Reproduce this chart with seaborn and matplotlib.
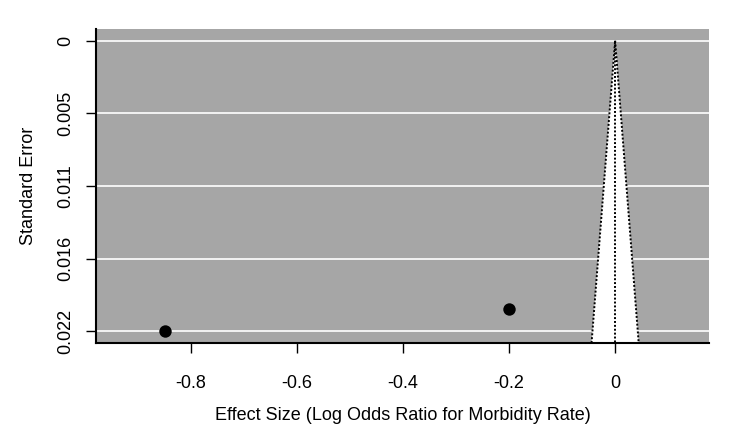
import matplotlib
matplotlib.use('Agg')
import matplotlib.pyplot as plt
import seaborn as sns
import numpy as np
import pandas as pd

# studies (log odds ratio, standard error)
effect = [-0.848, -0.2]
std_err = [0.0218, 0.0201]
estimate = 0.0
y_ticks = [0, 0.00545, 0.0109, 0.01635, 0.0218]
y_labels = ['0', '0.005', '0.011', '0.016', '0.022']
x_ticks = [-0.8, -0.6, -0.4, -0.2, 0]
x_labels = ['-0.8', '-0.6', '-0.4', '-0.2', '0']

df = pd.DataFrame({'effect': effect, 'se': std_err})

sns.set_style('ticks')
plt.rcParams['font.family'] = ['Liberation Sans', 'DejaVu Sans']
plt.rcParams['text.color'] = 'black'
plt.rcParams['axes.labelcolor'] = 'black'
plt.rcParams['xtick.color'] = 'black'
plt.rcParams['ytick.color'] = 'black'

fig = plt.figure(figsize=(7.5, 4.38), dpi=100)
ax = fig.add_axes([0.128, 0.2169, 0.8173, 0.7169])
ax.set_facecolor('#a6a6a6')

se_max = max(std_err)
pad = se_max * 0.04
ylo, yhi = -pad, se_max + pad
ax.set_ylim(yhi, ylo)
ax.set_xlim(-0.979, 0.177)

# grid lines
for t in y_ticks:
    ax.axhline(t, color='white', lw=1.2, zorder=1)

# funnel (pseudo 95% CI region)
half = 1.96 * yhi
ax.fill([estimate, estimate - half, estimate + half], [0, yhi, yhi],
        color='white', zorder=2, lw=0)
ax.plot([estimate - half, estimate, estimate + half], [yhi, 0, yhi],
        color='black', ls=(0, (1, 1)), lw=1.4, zorder=3)
ax.plot([estimate, estimate], [0, yhi], color='black', ls=(0, (1, 1)),
        lw=1.4, zorder=3)

sns.scatterplot(data=df, x='effect', y='se', color='black', s=80,
                edgecolor='black', linewidth=0, ax=ax, zorder=4)

fs = 13
ax.set_xticks(x_ticks)
ax.set_xticklabels(x_labels, fontsize=fs)
ax.set_yticks(y_ticks)
ax.set_yticklabels(y_labels, fontsize=fs, rotation=90, va='center')
ax.tick_params(axis='x', length=7, width=1, pad=16)
ax.tick_params(axis='y', length=7, width=1, pad=9)

ax.set_xlabel('Effect Size (Log Odds Ratio for Morbidity Rate)', fontsize=fs, labelpad=11)
ax.set_ylabel('Standard Error', fontsize=fs, labelpad=14)

for side in ['top', 'right']:
    ax.spines[side].set_visible(False)
for side in ['left', 'bottom']:
    ax.spines[side].set_color('black')
    ax.spines[side].set_linewidth(1.5)

fig.savefig('out.png', dpi=100)
plt.close(fig)
